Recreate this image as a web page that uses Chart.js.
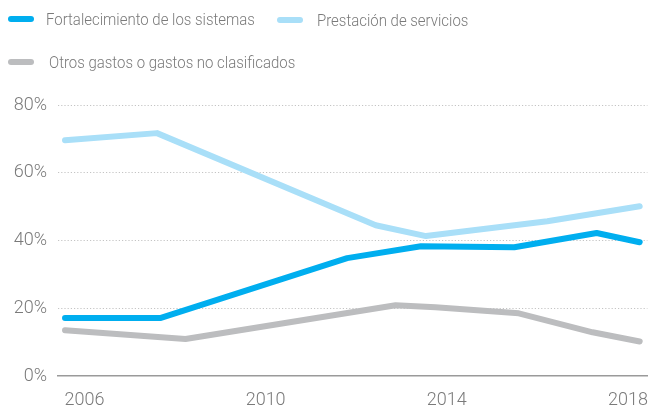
<!DOCTYPE html>
<html>
<head>
<meta charset="utf-8">
<script src="https://cdn.jsdelivr.net/npm/chart.js@4/dist/chart.umd.min.js"></script>
<style>
  html, body { margin: 0; padding: 0; background: #fff; }
  #wrap { position: relative; width: 662px; height: 413px; font-family: Roboto, "Liberation Sans", sans-serif; }
  #c { position: absolute; left: 0; top: 0; }
  .lg { position: absolute; display: flex; align-items: center; color: #7a7a7a; font-size: 17px; font-weight: 300; white-space: nowrap; }
  .sw { display: inline-block; width: 26px; height: 6px; border-radius: 3px; flex: none; }
  .tx { display: inline-block; transform: scaleX(0.88); transform-origin: 0 50%; }
</style>
</head>
<body>
<div id="wrap">
  <canvas id="c" width="662" height="413"></canvas>
</div>
<script>
// Series names
const seriesNames = ["Fortalecimiento de los sistemas", "Prestación de servicios", "Otros gastos o gastos no clasificados"];
const seriesColors = ["#00aeef", "#a9dff8", "#bcbdbf"];

// Tick labels (years) and y ticks
const xTickYears = [2006, 2010, 2014, 2018];
const yTicks = [0, 20, 40, 60, 80];

// Series points: x = year position read on the axis, y = percentage
const fortalecimientoX = [2005.57, 2007.67, 2011.80, 2013.43, 2015.49, 2017.31, 2018.26];
const fortalecimientoY = [17.1, 17.1, 34.8, 38.3, 38.0, 42.2, 39.5];

const prestacionX = [2005.57, 2007.60, 2012.43, 2013.54, 2016.22, 2018.26];
const prestacionY = [69.6, 71.7, 44.5, 41.3, 45.7, 50.1];

const otrosX = [2005.57, 2008.23, 2012.87, 2013.75, 2015.59, 2017.22, 2018.26];
const otrosY = [13.5, 10.9, 20.9, 20.3, 18.5, 12.9, 10.2];

function pts(xs, ys) { return xs.map((x, i) => ({ x: x, y: ys[i] })); }

const seriesData = [pts(fortalecimientoX, fortalecimientoY), pts(prestacionX, prestacionY), pts(otrosX, otrosY)];

// HTML legend
const legendPos = [
  { left: 8, top: 9 },
  { left: 277, top: 10 },
  { left: 8, top: 52 }
];
const textGap = [12, 14, 15];
const wrap = document.getElementById('wrap');
seriesNames.forEach((n, i) => {
  const d = document.createElement('div');
  d.className = 'lg';
  d.style.left = legendPos[i].left + 'px';
  d.style.top = legendPos[i].top + 'px';
  d.style.height = '20px';
  const s = document.createElement('span');
  s.className = 'sw';
  s.style.background = seriesColors[i];
  s.style.marginRight = textGap[i] + 'px';
  const t = document.createElement('span');
  t.className = 'tx';
  t.textContent = n;
  d.appendChild(s); d.appendChild(t);
  wrap.appendChild(d);
});

// Draw order: gray, light blue, blue on top
const order = [2, 1, 0];
const datasets = order.map(i => ({
  label: seriesNames[i],
  data: seriesData[i],
  borderColor: seriesColors[i],
  backgroundColor: seriesColors[i],
  borderWidth: 6,
  borderCapStyle: 'round',
  borderJoinStyle: 'round',
  pointRadius: 0,
  tension: 0,
  fill: false
}));

new Chart(document.getElementById('c'), {
  type: 'line',
  data: { datasets: datasets },
  options: {
    responsive: false,
    animation: false,
    events: [],
    layout: { padding: { top: 105, right: 3, left: 0, bottom: 0 } },
    plugins: { legend: { display: false }, tooltip: { enabled: false } },
    scales: {
      x: {
        type: 'linear',
        position: 'bottom',
        min: 2005.415,
        max: 2018.43,
        afterBuildTicks: (s) => { s.ticks = xTickYears.map(v => ({ value: v })); },
        afterFit: (s) => { s.height = 37; },
        ticks: {
          callback: (v) => String(v),
          color: '#7a7a7a',
          font: { family: 'Roboto', size: 18, weight: '300' },
          padding: 14,
          maxRotation: 0,
          autoSkip: false
        },
        grid: { display: false, drawTicks: false },
        border: { display: true, color: '#9a9a9a', width: 1.5 }
      },
      y: {
        min: 0,
        max: 80,
        afterBuildTicks: (s) => { s.ticks = yTicks.map(v => ({ value: v })); },
        afterFit: (s) => { s.width = 58; },
        ticks: {
          callback: (v) => v + '%',
          color: '#7a7a7a',
          font: { family: 'Roboto', size: 18, weight: '300' },
          padding: 11
        },
        grid: {
          drawTicks: false,
          color: (ctx) => (ctx.tick && ctx.tick.value === 0) ? 'rgba(0,0,0,0)' : '#c4c4c4',
          lineWidth: 1
        },
        border: { display: false, dash: [1.2, 2] }
      }
    }
  }
});
</script>
</body>
</html>
